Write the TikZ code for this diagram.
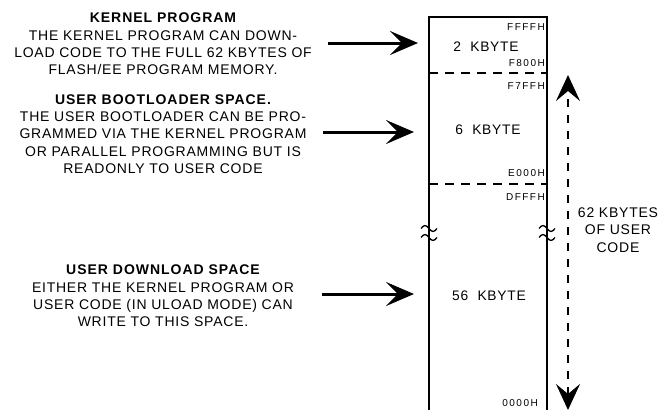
\documentclass[tikz,border=0pt]{standalone}
\usepackage{fontspec}
\setmainfont{Liberation Sans}
\newfontfamily\bodyfont[LetterSpace=5.5]{Liberation Sans}
\newfontfamily\headfont[LetterSpace=7]{Liberation Sans Bold}
\newfontfamily\addrfont[LetterSpace=15]{Liberation Sans}
\usepackage{tikz}
\usetikzlibrary{arrows.meta,positioning,calc}

\tikzset{
    desc/.style={align=center, inner sep=0pt, font=\bodyfont\fontsize{14}{17.3}\selectfont},
    addr/.style={anchor=east, inner sep=0pt, font=\addrfont\fontsize{10}{11}\selectfont},
    size/.style={inner sep=0pt, font=\bodyfont\fontsize{13.8}{16}\selectfont},
    bigarrow/.style={line width=3pt, -{Stealth[length=28pt,width=24pt,inset=12pt]}},
    sep/.style={line width=2.4pt, dash pattern=on 9pt off 7pt},
    breakmark/.style={line width=1.3pt}
}

\begin{document}
\begin{tikzpicture}[x=1pt, y=-1pt]
    \useasboundingbox (0,0) rectangle (660,410);

    % memory column
    \draw[line width=2pt] (429,410) -- (429,16.5) -- (547,16.5) -- (547,410);
    \draw[sep] (429,73) -- (547,73);
    \draw[sep] (429,184) -- (547,184);

    % break marks
    \foreach \bx in {429,547} {
        \foreach \by in {228.5,237.5}
            \draw[breakmark] (\bx-8,\by) sin (\bx-4,\by-3) cos (\bx,\by) sin (\bx+4,\by+3) cos (\bx+8,\by);
    }

    % addresses
    \node[addr] (ffff) at (545,27) {FFFFH};
    \node[addr] (f800) at (545,63) {F800H};
    \node[addr] (f7ff) at (545,86) {F7FFH};
    \node[addr] (e000) at (545,173) {E000H};
    \node[addr] (dfff) at (545,197) {DFFFH};
    \node[addr] (zero) at (538,403) {0000H};

    % block sizes
    \node[size] (kb2) at (486,47) {2\ \ KBYTE};
    \node[size] (kb6) at (488,130) {6\ \ KBYTE};
    \node[size] (kb56) at (489,296) {56\ \ KBYTE};

    % descriptions
    \node[desc] (kernel) at (163,44) {{\headfont KERNEL PROGRAM}\\THE KERNEL PROGRAM CAN DOWN-\\LOAD CODE TO THE FULL 62 KBYTES OF\\FLASH/EE PROGRAM MEMORY.};
    \node[desc] (boot) at (163,134) {{\headfont USER BOOTLOADER SPACE.}\\THE USER BOOTLOADER CAN BE PRO-\\GRAMMED VIA THE KERNEL PROGRAM\\OR PARALLEL PROGRAMMING BUT IS\\READONLY TO USER CODE};
    \node[desc] (dload) at (163,296) {{\headfont USER DOWNLOAD SPACE}\\EITHER THE KERNEL PROGRAM OR\\USER CODE (IN ULOAD MODE) CAN\\WRITE TO THIS SPACE.};

    % arrows into the column
    \coordinate (kfrom) at (328,43);
    \coordinate (kto) at (418,43);
    \coordinate (bfrom) at (323,132);
    \coordinate (bto) at (414,132);
    \coordinate (dfrom) at (322,294);
    \coordinate (dto) at (414,294);
    \draw[bigarrow] (kfrom) -- (kto);
    \draw[bigarrow] (bfrom) -- (bto);
    \draw[bigarrow] (dfrom) -- (dto);

    % user code span
    \coordinate (utop) at (568,75);
    \coordinate (ubot) at (568,410);
    \draw[line width=1.8pt, dash pattern=on 8pt off 8pt, {Stealth[length=26pt,width=24pt,inset=10pt]}-{Stealth[length=26pt,width=24pt,inset=10pt]}] (ubot) -- (utop);
    \node[desc] (total) at (618,230) {62 KBYTES\\OF USER\\CODE};
\end{tikzpicture}
\end{document}
